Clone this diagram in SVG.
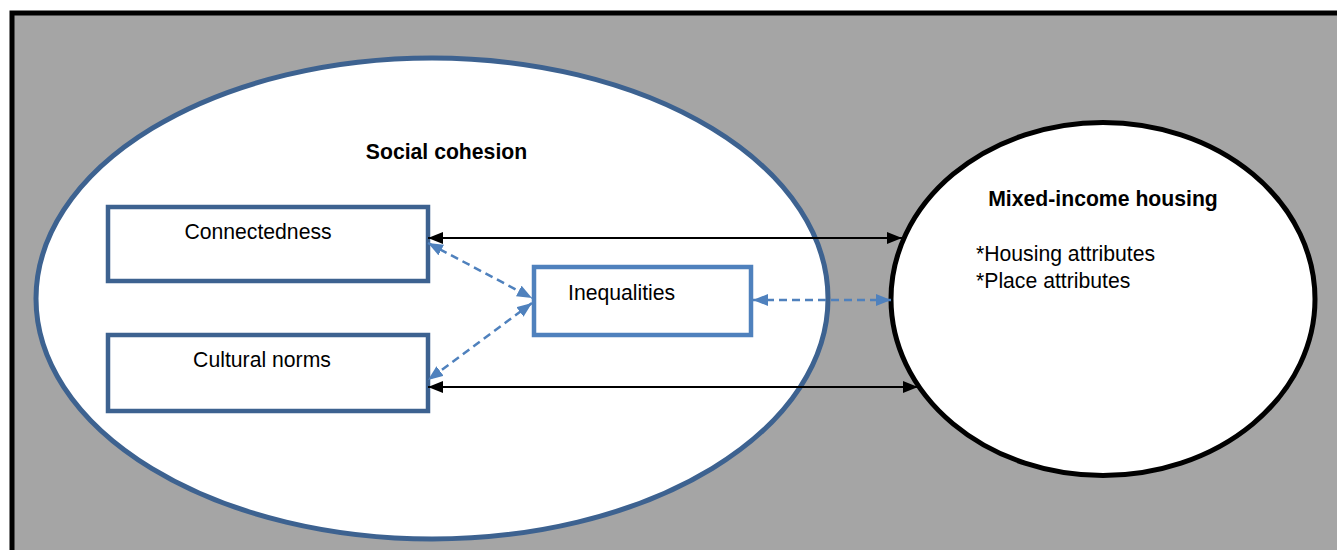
<svg xmlns="http://www.w3.org/2000/svg" width="1337" height="550" viewBox="0 0 1337 550">
<style>
.t{font-family:"Liberation Sans",Arial,sans-serif;font-size:21.2px;fill:#000}
.b{font-weight:bold}
.box{fill:#fff;stroke:#3d6290;stroke-width:4.5}
.blk{stroke:#000;stroke-width:2;fill:none}
.dsh{stroke:#4f81bd;stroke-width:2.5;stroke-dasharray:8,5;fill:none}
</style>
<defs>
<marker id="ka" viewBox="0 0 15 12" refX="15" refY="6" markerWidth="15" markerHeight="12" markerUnits="userSpaceOnUse" orient="auto-start-reverse"><path d="M0,0L15,6L0,12z" fill="#000"/></marker>
<marker id="ba" viewBox="0 0 15 12" refX="15" refY="6" markerWidth="15" markerHeight="12" markerUnits="userSpaceOnUse" orient="auto-start-reverse"><path d="M0,0L15,6L0,12z" fill="#4f81bd"/></marker>
</defs>
<rect x="0" y="0" width="1337" height="550" fill="#fff"/>
<rect x="12" y="13" width="1345" height="560" fill="#a5a5a5" stroke="#000" stroke-width="5"/>
<g id="social-cohesion">
<ellipse cx="432" cy="298.5" rx="396" ry="240.5" fill="#fff" stroke="#3d6290" stroke-width="5"/>
<text class="t b" x="446.5" y="159" text-anchor="middle">Social cohesion</text>
</g>
<g id="mixed-income-housing">
<ellipse cx="1103" cy="299" rx="212" ry="176.5" fill="#fff" stroke="#000" stroke-width="5"/>
<text class="t b" x="1103" y="206" text-anchor="middle">Mixed-income housing</text>
<text class="t" x="976" y="261">*Housing attributes</text>
<text class="t" x="976" y="288">*Place attributes</text>
</g>
<g id="connectedness">
<rect class="box" x="108" y="207" width="320" height="74"/>
<text class="t" x="258" y="239" text-anchor="middle">Connectedness</text>
</g>
<g id="cultural-norms">
<rect class="box" x="108" y="335" width="320" height="76"/>
<text class="t" x="262" y="367" text-anchor="middle">Cultural norms</text>
</g>
<g id="inequalities">
<rect x="534" y="267" width="217" height="68" fill="#fff" stroke="#4f81bd" stroke-width="4.5"/>
<text class="t" x="568" y="300">Inequalities</text>
</g>
<g id="connectors">
<line class="blk" x1="428" y1="238" x2="902" y2="238" marker-start="url(#ka)" marker-end="url(#ka)"/>
<line class="blk" x1="428" y1="387" x2="918" y2="387" marker-start="url(#ka)" marker-end="url(#ka)"/>
<line class="dsh" x1="753" y1="300" x2="891" y2="300" marker-start="url(#ba)" marker-end="url(#ba)"/>
<line class="dsh" x1="428" y1="243" x2="532" y2="298" marker-start="url(#ba)" marker-end="url(#ba)"/>
<line class="dsh" x1="532" y1="303" x2="428" y2="380" marker-start="url(#ba)" marker-end="url(#ba)"/>
</g>
</svg>
